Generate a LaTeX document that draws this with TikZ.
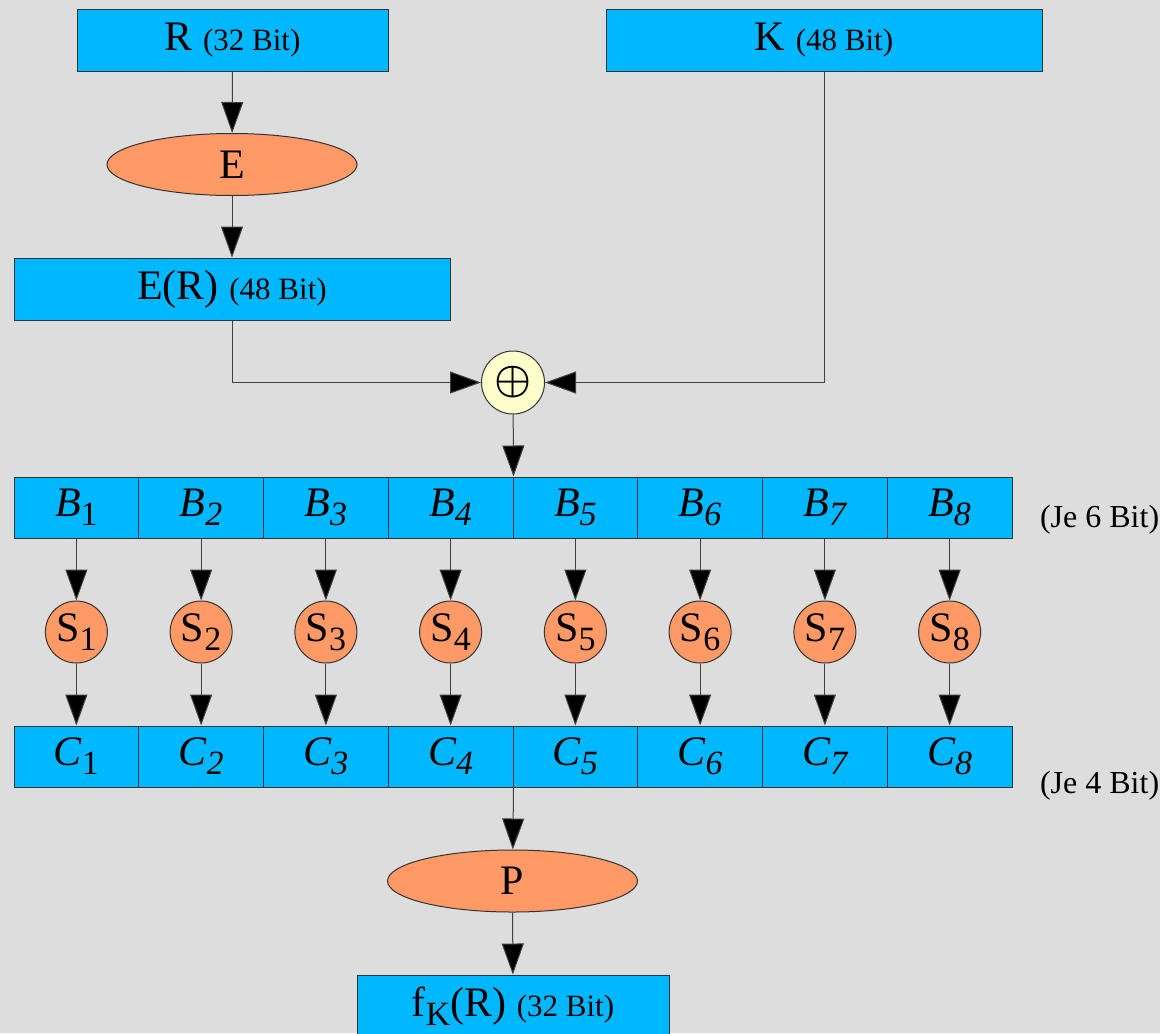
\documentclass[tikz,border=0pt]{standalone}
\usepackage{fontspec}
\setmainfont{Liberation Serif}
\usetikzlibrary{shapes, arrows.meta, positioning}
\definecolor{bggray}{HTML}{DDDDDD}
\definecolor{boxblue}{HTML}{00B8FF}
\definecolor{sboxorange}{HTML}{FF9966}
\definecolor{xoryellow}{HTML}{FFFFCC}
\newcommand{\lowidx}[1]{\raisebox{-4.5pt}{\fontsize{17}{17}\selectfont #1}}
\newcommand{\smallbits}[1]{{\fontsize{15.5}{15.5}\selectfont #1}}
\tikzstyle{block} = [rectangle, draw=black!80, line width=0.5pt, fill=boxblue, inner sep=0pt, minimum height=31pt, font=\fontsize{21}{21}\selectfont]
\tikzstyle{cell} = [block, minimum width=62.375pt, minimum height=30.5pt]
\tikzstyle{oper} = [ellipse, draw=black!80, line width=0.5pt, fill=sboxorange, inner sep=0pt, minimum width=125pt, minimum height=31pt, font=\fontsize{21}{21}\selectfont]
\tikzstyle{sbox} = [circle, draw=black!80, line width=0.5pt, fill=sboxorange, inner sep=0pt, minimum size=31pt, font=\fontsize{21}{21}\selectfont]
\tikzstyle{xorop} = [circle, draw=black!80, line width=0.5pt, fill=xoryellow, inner sep=0pt, minimum size=31.5pt, font=\fontsize{19.5}{19.5}\selectfont\boldmath]
\tikzstyle{arr} = [-{Triangle[length=15.5pt, width=11pt, fill=black]}, draw=black!75, line width=0.5pt]

\begin{document}
\begin{tikzpicture}[x=0.5pt, y=-0.5pt]
        \fill[bggray] (0, 0) rectangle (1160, 1033);
        \useasboundingbox (0, 0) rectangle (1160, 1033);
        \clip (0, 0) rectangle (1160, 1033);

        \node[block, minimum width=155.5pt] at (232.5, 40) (R) {R \smallbits{(32 Bit)}};
        \node[block, minimum width=218pt] at (824, 40) (K) {K \smallbits{(48 Bit)}};
        \node[oper] at (232, 164.5) (E) {E};
        \node[block, minimum width=218pt] at (232, 289) (ER) {E(R) \smallbits{(48 Bit)}};
        \node[xorop] at (513, 382.5) (Xor) {$\oplus$};

        \foreach \i in {1,...,8} {
            \node[cell] at ({14+124.75*(\i-0.5)}, 507.5) (B\i) {\itshape B\lowidx{\ifnum\i=1 \upshape\fi\i}};
            \node[sbox] at ({14+124.75*(\i-0.5)}, 632) (S\i) {S\lowidx{\i}};
            \node[cell] at ({14+124.75*(\i-0.5)}, 756.5) (C\i) {\itshape C\lowidx{\ifnum\i=1 \upshape\fi\i}};
            \draw[arr] (B\i) -- (S\i);
            \draw[arr] (S\i) -- (C\i);
        }
        \node[anchor=west, font=\fontsize{16}{16}\selectfont] at (1033, 520) (JeSix) {(Je 6 Bit)};
        \node[anchor=west, font=\fontsize{16}{16}\selectfont] at (1033, 786) (JeFour) {(Je 4 Bit)};

        \node[oper] at (512.5, 881) (P) {P};
        \node[block, minimum width=156pt] at (513, 1006) (F) {f\lowidx{K}(R) \smallbits{(32 Bit)}};

        \draw[arr] (R) -- (E);
        \draw[arr] (E) -- (ER);
        \draw[arr] (ER.south) |- (Xor.west);
        \draw[arr] (K.south) |- (Xor.east);
        \draw[arr] (Xor) -- (B4.north east);
        \draw[arr] (C4.south east) -- (P);
        \draw[arr] (P) -- (F);
    \end{tikzpicture}
\end{document}
